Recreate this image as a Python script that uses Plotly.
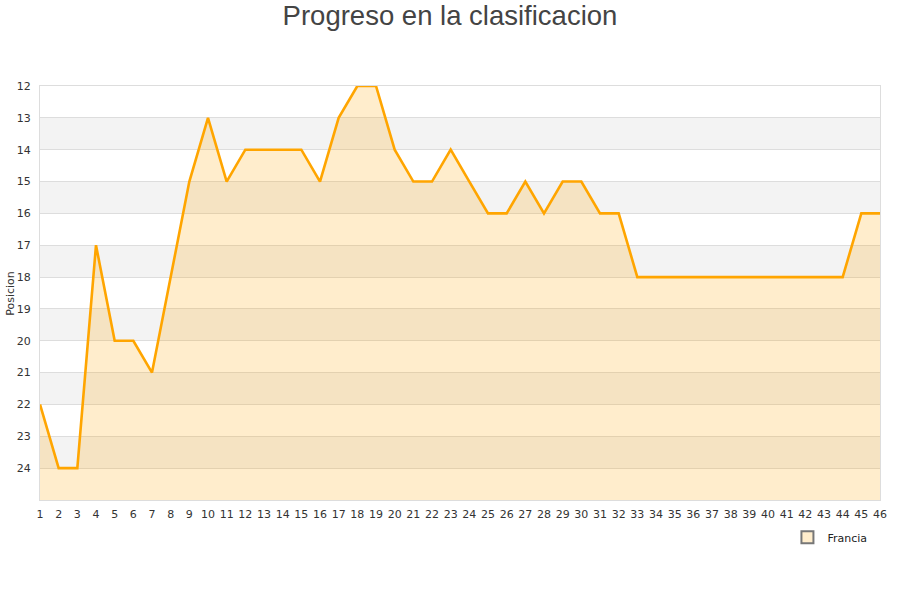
import plotly.graph_objects as go

jornadas = list(range(1, 47))
posiciones = [22, 24, 24, 17, 20, 20, 21, 18, 15, 13, 15, 14, 14, 14, 14, 15, 13, 12, 12, 14,
              15, 15, 14, 15, 16, 16, 15, 16, 15, 15, 16, 16, 18, 18, 18, 18, 18, 18, 18, 18,
              18, 18, 18, 18, 16, 16]
y_ticks = list(range(12, 25))
y_bottom = 25
y_top = 12

fig = go.Figure()

# baseline for filling down to bottom of reversed axis
fig.add_trace(go.Scatter(x=jornadas, y=[y_bottom] * len(jornadas), mode="lines",
                         line=dict(width=0, color="rgba(0,0,0,0)"), showlegend=False,
                         hoverinfo="skip"))
fig.add_trace(go.Scatter(x=jornadas, y=posiciones, mode="lines", name="Francia",
                         line=dict(color="#FFA500", width=2.6), showlegend=False,
                         fill="tonexty", fillcolor="rgba(255,165,0,0.2)"))
# legend entry (square swatch)
fig.add_trace(go.Scatter(x=[None], y=[None], mode="markers", name="Francia",
                         marker=dict(symbol="square", size=7, color="#FFEDCC",
                                     line=dict(color="#777777", width=1))))

shapes = []
for v in range(13, 24, 2):
    shapes.append(dict(type="rect", xref="paper", yref="y", x0=0, x1=1, y0=v, y1=v + 1,
                       fillcolor="#F3F3F3", line=dict(width=0), layer="below"))

fig.update_layout(
    width=900, height=600,
    paper_bgcolor="white", plot_bgcolor="white",
    margin=dict(l=40, r=20, t=86, b=100, autoexpand=False),
    title=dict(text="Progreso en la clasificacion", x=0.5, xanchor="center",
               yref="container", y=0.99, yanchor="top", pad=dict(t=0),
               font=dict(family="Liberation Sans, Arial", size=27.5, color="#444444")),
    font=dict(family="DejaVu Sans", size=11, color="#333333"),
    shapes=shapes,
    annotations=[dict(text="Posicion", xref="paper", yref="paper", x=-0.036, y=0.5,
                      xanchor="center", yanchor="middle", textangle=-90, showarrow=False,
                      font=dict(size=11, color="#333333"))],
    showlegend=True,
    legend=dict(orientation="h", x=0.991, xanchor="right", y=-0.055, yanchor="top",
                font=dict(size=11, color="#222222"), bgcolor="rgba(0,0,0,0)",
                itemsizing="constant"),
    xaxis=dict(range=[1, 46], tickmode="array", tickvals=jornadas, ticks="", showgrid=False,
               zeroline=False, showline=True, linecolor="#DDDDDD", mirror=True, automargin=False,
               ticklabelstandoff=4, tickfont=dict(size=11, color="#333333")),
    yaxis=dict(range=[y_bottom, y_top], tickmode="array", tickvals=y_ticks, ticks="",
               showgrid=True, gridcolor="#DDDDDD", zeroline=False, showline=True,
               linecolor="#DDDDDD", mirror=True, layer="above traces", automargin=False,
               ticklabelstandoff=6, tickfont=dict(size=11, color="#333333")),
)

fig.write_html("out.html", config={"displayModeBar": False},
               post_script="document.body.style.margin='0';")
